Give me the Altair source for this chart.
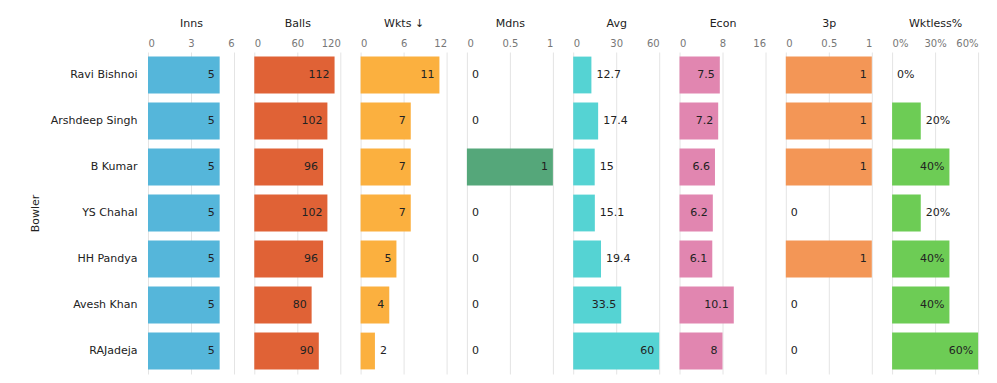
import altair as alt
import pandas as pd

bowlers = ["Ravi Bishnoi", "Arshdeep Singh", "B Kumar", "YS Chahal", "HH Pandya", "Avesh Khan", "RAJadeja"]
inns = [5, 5, 5, 5, 5, 5, 5]
balls = [112, 102, 96, 102, 96, 80, 90]
wkts = [11, 7, 7, 7, 5, 4, 2]
mdns = [0, 0, 1, 0, 0, 0, 0]
avg = [12.7, 17.4, 15, 15.1, 19.4, 33.5, 60]
econ = [7.5, 7.2, 6.6, 6.2, 6.1, 10.1, 8]
three_p = [1, 1, 1, 0, 1, 0, 0]
wktless = [0, 0.2, 0.4, 0.2, 0.4, 0.4, 0.6]

titles = ["Inns", "Balls", "Wkts ↓", "Mdns", "Avg", "Econ", "3p", "Wktless%"]
domains = [6, 120, 12, 1, 60, 16, 1, 0.6]
ticks = [[0, 3, 6], [0, 60, 120], [0, 6, 12], [0, 0.5, 1], [0, 30, 60], [0, 8, 16], [0, 0.5, 1], [0, 0.3, 0.6]]
colors = ["#55b6da", "#e06236", "#fbb03f", "#55a77a", "#55d3d3", "#e186b0", "#f39656", "#6dcc55"]
series = [inns, balls, wkts, mdns, avg, econ, three_p, wktless]

W = 86
H = 322


def fmt_label(v, pct):
    if pct:
        return f"{round(v * 100)}%"
    return f"{v:g}"


panels = []
for i, (title, vals, dmax, tk, col) in enumerate(zip(titles, series, domains, ticks, colors)):
    pct = title == "Wktless%"
    labels = [fmt_label(v, pct) for v in vals]
    inside = [(v / dmax * W) > (len(l) * 7 + 10) for v, l in zip(vals, labels)]
    df = pd.DataFrame({"Bowler": bowlers, "value": vals, "label": labels, "inside": inside})

    yaxis = alt.Axis(title="Bowler", labelPadding=11, titlePadding=10, labelFontSize=11,
                     titleFontSize=11, labelColor="#222", titleColor="#222", titleFontWeight="normal",
                     grid=False, ticks=False, domain=False) if i == 0 else None
    y = alt.Y("Bowler:N", sort=bowlers, axis=yaxis,
              scale=alt.Scale(paddingInner=0.2, paddingOuter=0.1))
    xaxis = alt.Axis(orient="top", values=tk, title=title, format=".0%" if pct else "~f",
                     labelFontSize=10, labelColor="#777", titleFontSize=11, titleColor="#222",
                     titleFontWeight="normal", titlePadding=10, labelPadding=4,
                     grid=True, gridColor="#e4e4e4", ticks=False, domain=False)
    x = alt.X("value:Q", scale=alt.Scale(domain=[0, dmax], nice=False), axis=xaxis)
    base = alt.Chart(df).encode(y=y)
    bars = base.mark_bar(color=col).encode(x=x)
    t_in = base.transform_filter("datum.inside").mark_text(
        align="right", dx=-5, fontSize=11, color="#222", font="DejaVu Sans"
    ).encode(x=alt.X("value:Q"), text="label:N")
    t_out = base.transform_filter("!datum.inside").mark_text(
        align="left", dx=5, fontSize=11, color="#222", font="DejaVu Sans"
    ).encode(x=alt.X("value:Q"), text="label:N")
    panels.append(alt.layer(bars, t_in, t_out).properties(width=W, height=H))

chart = alt.hconcat(*panels, spacing=20.3).resolve_scale(x="independent").properties(
    padding={"left": 21, "top": 9, "right": 5, "bottom": 5}
).configure_view(
    stroke=None
).configure_axis(
    labelFont="DejaVu Sans", titleFont="DejaVu Sans"
).configure_text(font="DejaVu Sans")

chart.save("out.html", embed_options={"renderer": "svg", "actions": False})
